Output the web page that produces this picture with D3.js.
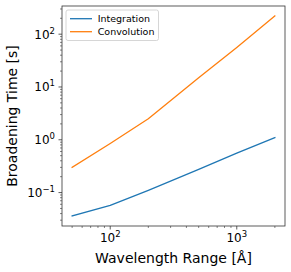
<!DOCTYPE html>
<html>
<head>
<meta charset="utf-8">
<script src="https://cdn.jsdelivr.net/npm/d3@7"></script>
<style>
  html, body { margin: 0; padding: 0; background: #fff; }
  svg { display: block; font-family: "DejaVu Sans", sans-serif; }
</style>
</head>
<body>
<svg id="chart" width="291" height="272"></svg>
<script>
// ---- data ----
const wavelengthRange = [50, 100, 200, 500, 1000, 2000];
const integrationTime = [0.036, 0.057, 0.11, 0.275, 0.56, 1.1];
const convolutionTime = [0.30, 0.85, 2.5, 15, 56, 221];
const seriesNames = ["Integration", "Convolution"];
const seriesColors = ["#1f77b4", "#ff7f0e"];
const xTickExps = [2, 3];
const yTickExps = [-1, 0, 1, 2];
const xLabel = "Wavelength Range [Å]";
const yLabel = "Broadening Time [s]";

// ---- layout ----
const W = 291, H = 272;
const margin = { left: 62, top: 6, right: 6, bottom: 46 };
const svg = d3.select("#chart");

function logMargin(vals) {
  const lo = Math.log10(d3.min(vals)), hi = Math.log10(d3.max(vals));
  const m = (hi - lo) * 0.05;
  return [Math.pow(10, lo - m), Math.pow(10, hi + m)];
}
const x = d3.scaleLog().domain(logMargin(wavelengthRange)).range([margin.left, W - margin.right]);
const y = d3.scaleLog().domain(logMargin(integrationTime.concat(convolutionTime))).range([H - margin.bottom, margin.top]);

const sup = { "-1": "\u22121", "0": "0", "1": "1", "2": "2", "3": "3" };

// minor ticks
function minorTicks(scale) {
  const [a, b] = scale.domain();
  const out = [];
  for (let e = Math.floor(Math.log10(a)); e <= Math.ceil(Math.log10(b)); e++) {
    for (let k = 2; k <= 9; k++) {
      const v = k * Math.pow(10, e);
      if (v >= a && v <= b) out.push(v);
    }
  }
  return out;
}

const tickColor = "#333";
// x axis ticks
const gx = svg.append("g");
gx.selectAll("line.minor").data(minorTicks(x)).join("line")
  .attr("x1", d => x(d)).attr("x2", d => x(d))
  .attr("y1", H - margin.bottom).attr("y2", H - margin.bottom + 2)
  .attr("stroke", tickColor).attr("stroke-width", 0.6);
gx.selectAll("line.major").data(xTickExps).join("line")
  .attr("x1", d => x(Math.pow(10, d))).attr("x2", d => x(Math.pow(10, d)))
  .attr("y1", H - margin.bottom).attr("y2", H - margin.bottom + 3.5)
  .attr("stroke", tickColor).attr("stroke-width", 0.8);
gx.selectAll("text").data(xTickExps).join("text")
  .attr("x", d => x(Math.pow(10, d))).attr("y", 242)
  .attr("text-anchor", "middle").attr("font-size", 12).attr("fill", "#000")
  .each(function(d) {
    const t = d3.select(this);
    t.append("tspan").text("10");
    t.append("tspan").attr("dy", -5).attr("font-size", 8.5).text(sup[d]);
  });

// y axis ticks
const gy = svg.append("g");
gy.selectAll("line.minor").data(minorTicks(y)).join("line")
  .attr("y1", d => y(d)).attr("y2", d => y(d))
  .attr("x1", margin.left).attr("x2", margin.left - 2)
  .attr("stroke", tickColor).attr("stroke-width", 0.6);
gy.selectAll("line.major").data(yTickExps).join("line")
  .attr("y1", d => y(Math.pow(10, d))).attr("y2", d => y(Math.pow(10, d)))
  .attr("x1", margin.left).attr("x2", margin.left - 3.5)
  .attr("stroke", tickColor).attr("stroke-width", 0.8);
gy.selectAll("text").data(yTickExps).join("text")
  .attr("x", 55).attr("y", d => y(Math.pow(10, d)) + 4.5)
  .attr("text-anchor", "end").attr("font-size", 12).attr("fill", "#000")
  .each(function(d) {
    const t = d3.select(this);
    t.append("tspan").text("10");
    t.append("tspan").attr("dy", -5).attr("font-size", 8.5).text(sup[d]);
  });

// lines
const line = d3.line().x(d => x(d[0])).y(d => y(d[1]));
[integrationTime, convolutionTime].forEach((vals, i) => {
  svg.append("path")
    .datum(wavelengthRange.map((w, j) => [w, vals[j]]))
    .attr("d", line).attr("fill", "none")
    .attr("stroke", seriesColors[i]).attr("stroke-width", 1.3)
    .attr("stroke-linejoin", "round").attr("stroke-linecap", "square");
});

// frame
svg.append("rect")
  .attr("x", margin.left).attr("y", margin.top)
  .attr("width", W - margin.left - margin.right).attr("height", H - margin.top - margin.bottom)
  .attr("fill", "none").attr("stroke", "#333").attr("stroke-width", 0.8);

// legend
const lg = svg.append("g");
lg.append("rect").attr("x", 66).attr("y", 10).attr("width", 92.5).attr("height", 30.5)
  .attr("rx", 2).attr("fill", "#fff").attr("fill-opacity", 0.8)
  .attr("stroke", "#ccc").attr("stroke-width", 0.8);
seriesNames.forEach((name, i) => {
  const yy = 18.7 + i * 13;
  lg.append("line").attr("x1", 70).attr("x2", 92).attr("y1", yy).attr("y2", yy)
    .attr("stroke", seriesColors[i]).attr("stroke-width", 1.3);
  lg.append("text").attr("x", 97.7).attr("y", yy + 3.4)
    .attr("font-size", 9.5).attr("fill", "#000").text(name);
});

// axis labels
svg.append("text")
  .attr("x", (margin.left + W - margin.right) / 2).attr("y", 263)
  .attr("text-anchor", "middle").attr("font-size", 14).attr("fill", "#000")
  .text(xLabel);
svg.append("text")
  .attr("transform", `translate(17,${(margin.top + H - margin.bottom) / 2}) rotate(-90)`)
  .attr("text-anchor", "middle").attr("font-size", 14).attr("fill", "#000")
  .text(yLabel);
</script>
</body>
</html>
